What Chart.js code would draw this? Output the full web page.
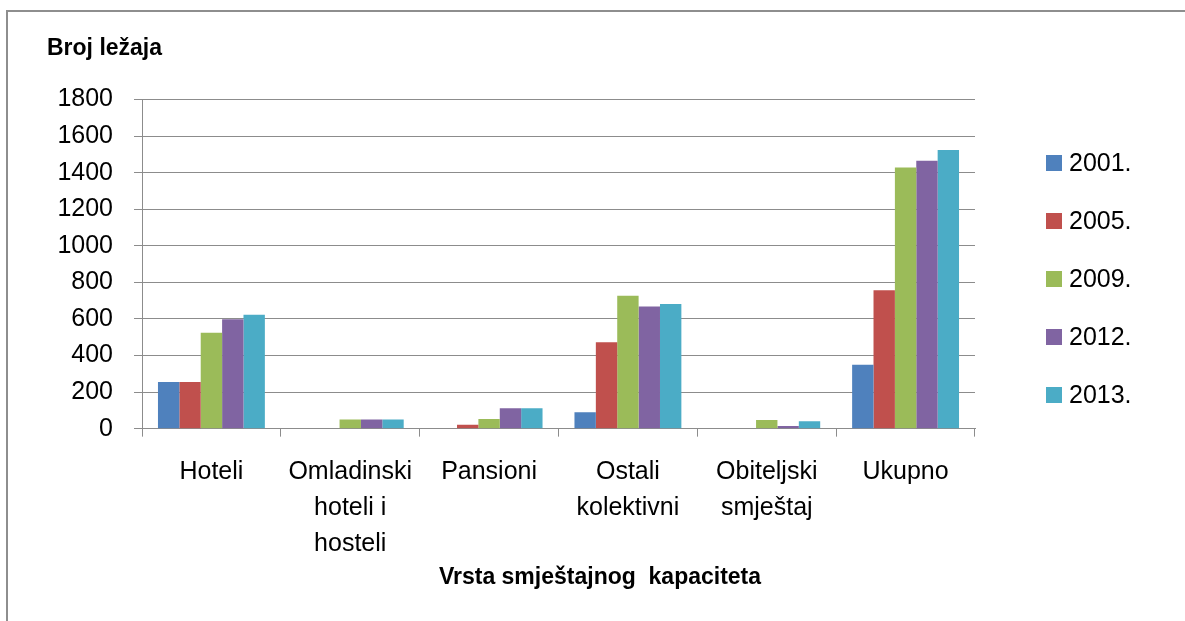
<!DOCTYPE html>
<html>
<head>
<meta charset="utf-8">
<script src="https://cdn.jsdelivr.net/npm/chart.js@4/dist/chart.umd.min.js"></script>
<style>
  html, body { margin: 0; padding: 0; background: #fff; }
  #wrap { position: relative; width: 1185px; height: 621px; overflow: hidden; }
  #frame {
    position: absolute; left: 6px; top: 10px; right: -4px; bottom: -4px;
    border-top: 2px solid #8e8e8e; border-left: 2px solid #8e8e8e;
    pointer-events: none;
  }
  canvas { position: absolute; left: 0; top: 0; }
</style>
</head>
<body>
<div id="wrap">
  <canvas id="canvas" width="1185" height="621"></canvas>
  <div id="frame"></div>
</div>
<script>
// broj ležaja po vrsti smještaja, za pet godina
const categories = [
  'Hoteli',
  ['Omladinski', 'hoteli i', 'hosteli'],
  'Pansioni',
  ['Ostali', 'kolektivni'],
  ['Obiteljski', 'smještaj'],
  'Ukupno'
];
const years = ['2001.', '2005.', '2009.', '2012.', '2013.'];

const beds2001 = [255, 0, 0, 90, 0, 350];
const beds2005 = [255, 0, 22, 472, 0, 757];
const beds2009 = [525, 50, 53, 727, 47, 1428];
const beds2012 = [598, 50, 112, 668, 14, 1466];
const beds2013 = [623, 50, 112, 682, 40, 1524];

const yTicks = [0, 200, 400, 600, 800, 1000, 1200, 1400, 1600, 1800];

const colors = ['#4F81BD', '#C0504D', '#9BBB59', '#8064A2', '#4BACC6'];
const series = [beds2001, beds2005, beds2009, beds2012, beds2013];

const FONT = "'Liberation Sans', Arial, sans-serif";
const gridGray = '#8c8c8c';

// legend drawn on the right, one item under another
const sideLegend = {
  id: 'sideLegend',
  afterDraw(chart) {
    const ctx = chart.ctx;
    ctx.save();
    ctx.font = '25px ' + FONT;
    ctx.textBaseline = 'middle';
    ctx.textAlign = 'left';
    chart.data.datasets.forEach(function(ds, i) {
      let y = 163 + i * 58;
      ctx.fillStyle = ds.backgroundColor;
      ctx.fillRect(1046, y - 8, 16, 16);
      ctx.fillStyle = '#000';
      ctx.fillText(ds.label, 1069, y + 1);
    });
    ctx.restore();
  }
};

let datasets = [];
for (let i = 0; i < years.length; i++) {
  datasets.push({
    label: years[i],
    data: series[i],
    backgroundColor: colors[i],
    borderWidth: 0,
    yAxisID: 'y'
  });
}

Chart.defaults.font.family = FONT;
Chart.defaults.color = '#000';

new Chart(document.getElementById('canvas'), {
  type: 'bar',
  data: { labels: categories, datasets: datasets },
  plugins: [sideLegend],
  options: {
    responsive: false,
    animation: false,
    categoryPercentage: 0.77,
    barPercentage: 1.0,
    layout: { padding: { left: 47, right: 32, top: 20, bottom: 12 } },
    plugins: {
      legend: { display: false },
      tooltip: { enabled: false },
      subtitle: {
        display: true,
        text: 'Broj ležaja',
        position: 'top',
        align: 'start',
        font: { size: 23, weight: 'bold', lineHeight: 1.2 },
        color: '#000',
        padding: { top: 15, bottom: 37 }
      },
      title: {
        display: true,
        text: 'Vrsta smještajnog  kapaciteta',
        position: 'bottom',
        align: 'center',
        font: { size: 23, weight: 'bold', lineHeight: 1.2 },
        color: '#000',
        padding: { top: -16, bottom: 18 }
      }
    },
    scales: {
      x: {
        grid: {
          display: true,
          drawOnChartArea: false,
          drawTicks: true,
          tickLength: 8,
          color: gridGray,
          offset: true
        },
        border: { display: true, color: gridGray },
        ticks: {
          font: { size: 25, lineHeight: 1.45 },
          color: '#000',
          padding: 17,
          maxRotation: 0,
          autoSkip: false
        }
      },
      y: {
        min: 0,
        max: 1800,
        afterBuildTicks(scale) {
          scale.ticks = yTicks.map(v => ({ value: v }));
        },
        afterFit(scale) { scale.width = 95; },
        grid: { color: gridGray, tickLength: 8, lineWidth: 1 },
        border: { display: true, color: gridGray },
        ticks: {
          font: { size: 25, lineHeight: 1.2 },
          color: '#000',
          padding: 21,
          callback: v => String(v)
        }
      },
      // empty right-hand strip that holds the legend
      side: {
        type: 'linear',
        position: 'right',
        display: true,
        afterFit(scale) { scale.width = 178; },
        grid: { display: false, drawTicks: false },
        border: { display: false },
        ticks: { display: false }
      }
    }
  }
});
</script>
</body>
</html>
